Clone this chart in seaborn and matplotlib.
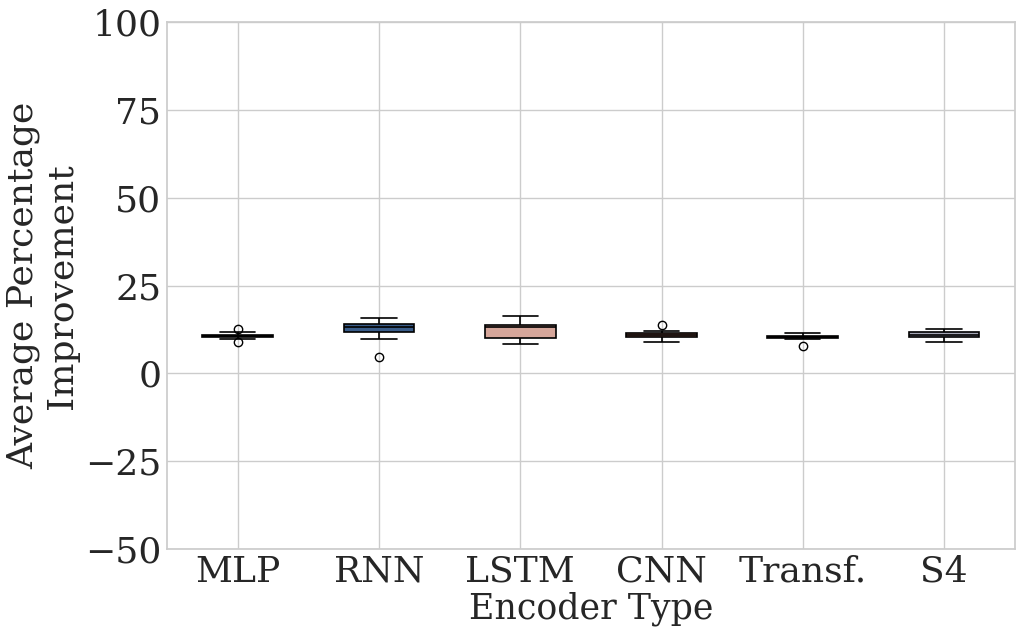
import numpy as np
import pandas as pd
import seaborn as sns
import matplotlib.pyplot as plt

# encoder names and the per-run average improvement (%)
encoders = ['MLP', 'RNN', 'LSTM', 'CNN', 'Transf.', 'S4']
mlp_vals = [9.0, 9.9, 10.4, 10.6, 10.8, 10.9, 11.1, 11.7, 12.8]
rnn_vals = [4.6, 9.9, 11.9, 12.6, 13.1, 13.6, 14.2, 15.0, 15.9]
lstm_vals = [8.5, 9.2, 10.0, 12.0, 13.2, 13.5, 13.8, 15.0, 16.3]
cnn_vals = [9.0, 9.8, 10.4, 10.7, 11.0, 11.2, 11.4, 12.2, 13.7]
transf_vals = [7.9, 9.8, 10.0, 10.2, 10.4, 10.6, 10.8, 11.2, 11.6]
s4_vals = [9.1, 9.8, 10.4, 10.8, 11.1, 11.5, 11.9, 12.3, 12.7]
box_colors = ['#1c1c1c', '#2c5a96', '#e0a090', '#c8705e', '#4a1c1c', '#a2a5b8']

all_vals = [mlp_vals, rnn_vals, lstm_vals, cnn_vals, transf_vals, s4_vals]
df = pd.DataFrame({
    'encoder': np.repeat(encoders, [len(v) for v in all_vals]),
    'improvement': np.concatenate(all_vals),
})

sns.set_theme(style='whitegrid')
plt.rcParams['font.family'] = ['DejaVu Serif']

fig, ax = plt.subplots(figsize=(10.24, 6.37), dpi=100)
sns.boxplot(data=df, x='encoder', y='improvement', hue='encoder', order=encoders,
            palette=box_colors, width=0.5, linecolor='black', linewidth=1.2,
            legend=False, ax=ax,
            flierprops=dict(marker='o', markerfacecolor='none', markeredgecolor='black', markersize=6))
ax.set_ylim(-50, 100)
ax.set_yticks([-50, -25, 0, 25, 50, 75, 100])
ax.set_xlabel('Encoder Type', fontsize=25, labelpad=2)
ax.set_ylabel('Average Percentage\nImprovement', fontsize=26, labelpad=4)
ax.tick_params(axis='x', labelsize=26, pad=4, length=0)
ax.tick_params(axis='y', labelsize=26, pad=4, length=0)
ax.xaxis.grid(True)
fig.subplots_adjust(left=0.163, right=0.991, top=0.965, bottom=0.138)
fig.savefig('out.png', dpi=100)
